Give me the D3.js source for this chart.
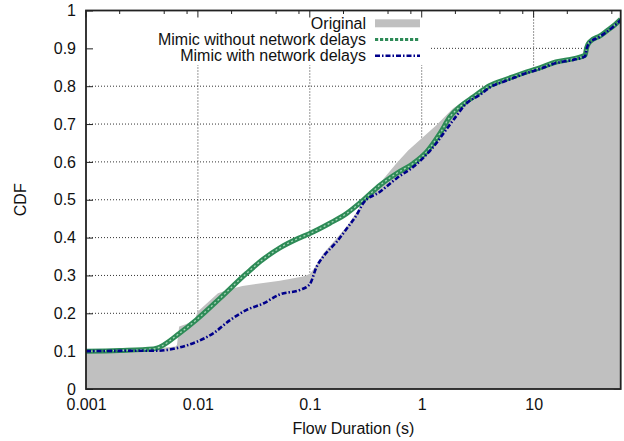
<!DOCTYPE html>
<html>
<head>
<meta charset="utf-8">
<script src="https://cdn.jsdelivr.net/npm/d3@7"></script>
<style>
  html, body { margin: 0; padding: 0; background: #fff; }
  svg { display: block; }
  text { font-family: "Liberation Sans", Arial, Helvetica, sans-serif; }
</style>
</head>
<body>
<svg id="chart" width="624" height="441"></svg>
<script>
// ---- data ----
const xTicks = [0.001, 0.01, 0.1, 1, 10];
const xTickLabels = ["0.001", "0.01", "0.1", "1", "10"];
const yTicks = [0, 0.1, 0.2, 0.3, 0.4, 0.5, 0.6, 0.7, 0.8, 0.9, 1];
const yTickLabels = ["0", "0.1", "0.2", "0.3", "0.4", "0.5", "0.6", "0.7", "0.8", "0.9", "1"];
const seriesNames = ["Original", "Mimic without network delays", "Mimic with network delays"];

const origX = [0.001, 0.00316, 0.0063, 0.0065, 0.0068, 0.0079, 0.0093, 0.0100, 0.0126, 0.0151, 0.020, 0.025, 0.0355, 0.054, 0.087, 0.100, 0.110, 0.132, 0.214, 0.288, 0.355, 0.426, 0.60, 0.76, 1.35, 1.91, 2.51, 3.16, 4.07, 5.75, 8.71, 11.5, 15.8, 22.9, 28.8, 29.5, 31.6, 39.8, 44.7, 51.3, 60];
const origY = [0.098, 0.104, 0.112, 0.116, 0.165, 0.172, 0.182, 0.205, 0.232, 0.253, 0.265, 0.272, 0.279, 0.286, 0.297, 0.304, 0.320, 0.358, 0.429, 0.485, 0.522, 0.545, 0.598, 0.631, 0.697, 0.742, 0.765, 0.782, 0.797, 0.814, 0.834, 0.845, 0.860, 0.869, 0.876, 0.896, 0.914, 0.928, 0.940, 0.953, 0.972];

const noDelayX = [0.001, 0.002, 0.004, 0.0043, 0.0069, 0.0098, 0.0158, 0.0273, 0.038, 0.054, 0.079, 0.100, 0.151, 0.214, 0.30, 0.426, 0.60, 0.84, 1.11, 1.46, 1.79, 2.2, 2.9, 4.07, 5.75, 8.71, 11.5, 15.8, 22.9, 28.8, 29.8, 31.9, 39.2, 45.0, 51.5, 60];
const noDelayY = [0.100, 0.102, 0.106, 0.108, 0.148, 0.184, 0.240, 0.306, 0.342, 0.373, 0.398, 0.411, 0.438, 0.464, 0.499, 0.539, 0.570, 0.596, 0.627, 0.676, 0.719, 0.746, 0.772, 0.802, 0.819, 0.838, 0.849, 0.864, 0.873, 0.882, 0.902, 0.918, 0.933, 0.946, 0.959, 0.977];

const delayX = [0.001, 0.003, 0.0043, 0.0069, 0.0098, 0.0137, 0.0194, 0.0273, 0.0384, 0.054, 0.082, 0.100, 0.115, 0.132, 0.174, 0.214, 0.262, 0.30, 0.424, 0.598, 0.841, 1.2, 1.92, 2.52, 3.3, 4.07, 5.75, 8.71, 11.5, 15.8, 22.9, 28.8, 29.8, 31.9, 39.2, 45.0, 51.5, 60];
const delayY = [0.100, 0.101, 0.101, 0.110, 0.125, 0.147, 0.182, 0.209, 0.226, 0.250, 0.262, 0.277, 0.323, 0.350, 0.389, 0.424, 0.460, 0.491, 0.521, 0.557, 0.587, 0.631, 0.711, 0.755, 0.777, 0.797, 0.815, 0.835, 0.846, 0.861, 0.870, 0.879, 0.899, 0.916, 0.931, 0.944, 0.957, 0.975];

// ---- layout ----
const L = 86, R = 620.7, T = 10.5, B = 389;
const FONT = "16px";
const svg = d3.select("#chart");
svg.append("rect").attr("width", 624).attr("height", 441).attr("fill", "#fff");

const x = d3.scaleLog().domain([0.001, 60]).range([L, R]);
const y = d3.scaleLinear().domain([0, 1]).range([B, T]);

const zip = (xs, ys) => xs.map((v, i) => [v, ys[i]]);
const orig = zip(origX, origY), noDelay = zip(noDelayX, noDelayY), delay = zip(delayX, delayY);

svg.append("defs").append("clipPath").attr("id", "clip")
  .append("rect").attr("x", L).attr("y", T).attr("width", R - L).attr("height", B - T);

// grid
const grid = svg.append("g");
grid.selectAll("line.vg").data(xTicks.slice(1)).join("line")
  .attr("x1", d => x(d)).attr("x2", d => x(d)).attr("y1", T).attr("y2", B)
  .attr("stroke", "#333").attr("stroke-width", 1).attr("stroke-dasharray", "1,2");
grid.selectAll("line.hg").data(yTicks.slice(1, -1)).join("line")
  .attr("x1", L).attr("x2", R).attr("y1", d => y(d)).attr("y2", d => y(d))
  .attr("stroke", "#333").attr("stroke-width", 1).attr("stroke-dasharray", "1,2");

// opaque key box
svg.append("rect").attr("x", L).attr("y", T).attr("width", 430 - L).attr("height", 65 - T).attr("fill", "#fff");

// minor ticks (top + bottom)
const minors = [];
[0.001, 0.01, 0.1, 1, 10].forEach(d => [2, 5, 8].forEach(m => { if (d * m <= 60) minors.push(d * m); }));
const tk = svg.append("g").attr("stroke", "#222").attr("stroke-width", 1);
tk.selectAll("line.mt").data(minors).join("line")
  .attr("x1", d => x(d)).attr("x2", d => x(d)).attr("y1", T).attr("y2", T + 3.5);
tk.selectAll("line.mb").data(minors).join("line")
  .attr("x1", d => x(d)).attr("x2", d => x(d)).attr("y1", B).attr("y2", B - 3.5);
tk.selectAll("line.Mt").data(xTicks).join("line")
  .attr("x1", d => x(d)).attr("x2", d => x(d)).attr("y1", T).attr("y2", T + 7);
tk.selectAll("line.yr").data(yTicks).join("line")
  .attr("x1", R).attr("x2", R - 7).attr("y1", d => y(d)).attr("y2", d => y(d));

// axes (bottom / left) with inward ticks
const xAxis = d3.axisBottom(x).tickValues(xTicks).tickFormat((d, i) => xTickLabels[i]).tickSize(-7).tickPadding(10);
const gx = svg.append("g").attr("transform", `translate(0,${B})`).call(xAxis);
const yAxis = d3.axisLeft(y).tickValues(yTicks).tickFormat((d, i) => yTickLabels[i]).tickSize(-7).tickPadding(10);
const gy = svg.append("g").attr("transform", `translate(${L},0)`).call(yAxis);
[gx, gy].forEach(g => {
  g.select(".domain").remove();
  g.selectAll(".tick line").attr("stroke", "#222");
  g.selectAll(".tick text").attr("fill", "#111").style("font-size", FONT).style("font-family", '"Liberation Sans", Arial, sans-serif');
});

// Original fill
const plot = svg.append("g").attr("clip-path", "url(#clip)");
plot.append("path").datum(orig)
  .attr("d", d3.area().x(d => x(d[0])).y0(B).y1(d => y(d[1])))
  .attr("fill", "#c0c0c0");

// Mimic without network delays (green thick textured line)
const lineGen = d3.line().x(d => x(d[0])).y(d => y(d[1])).curve(d3.curveMonotoneX);
plot.append("path").datum(noDelay).attr("d", lineGen)
  .attr("fill", "none").attr("stroke", "#2e8b57").attr("stroke-width", 5);
plot.append("path").datum(noDelay).attr("d", lineGen)
  .attr("fill", "none").attr("stroke", "#a6d8b8").attr("stroke-width", 1.3).attr("stroke-dasharray", "2,2.5");

// Mimic with network delays (blue dash-dot)
plot.append("path").datum(delay).attr("d", lineGen)
  .attr("fill", "none").attr("stroke", "#00008b").attr("stroke-width", 2.6)
  .attr("stroke-dasharray", "5,2,1.5,2");

// border
svg.append("rect").attr("x", L).attr("y", T).attr("width", R - L).attr("height", B - T)
  .attr("fill", "none").attr("stroke", "#222").attr("stroke-width", 1.8);

// legend
const legend = svg.append("g");
const rowsY = [23.3, 39.5, 55.7];
legend.selectAll("text").data(seriesNames).join("text")
  .attr("x", 366).attr("y", (d, i) => rowsY[i]).attr("dy", "0.35em")
  .attr("text-anchor", "end").attr("fill", "#111").style("font-size", FONT).text(d => d);
legend.append("rect").attr("x", 375).attr("y", rowsY[0] - 4).attr("width", 45).attr("height", 8).attr("fill", "#c0c0c0");
legend.append("line").attr("x1", 375).attr("x2", 420).attr("y1", rowsY[1]).attr("y2", rowsY[1])
  .attr("stroke", "#2e8b57").attr("stroke-width", 3).attr("stroke-dasharray", "3.2,1.8");
legend.append("line").attr("x1", 375).attr("x2", 420).attr("y1", rowsY[2]).attr("y2", rowsY[2])
  .attr("stroke", "#00008b").attr("stroke-width", 2.4).attr("stroke-dasharray", "5,2,1.5,2");

// axis titles
svg.append("text").attr("x", (L + R) / 2).attr("y", 428).attr("dy", "0.35em").attr("text-anchor", "middle")
  .attr("fill", "#111").style("font-size", FONT).text("Flow Duration (s)");
svg.append("text").attr("transform", `translate(20,${(T + B) / 2}) rotate(-90)`).attr("dy", "0.35em")
  .attr("text-anchor", "middle").attr("fill", "#111").style("font-size", FONT).text("CDF");
</script>
</body>
</html>
